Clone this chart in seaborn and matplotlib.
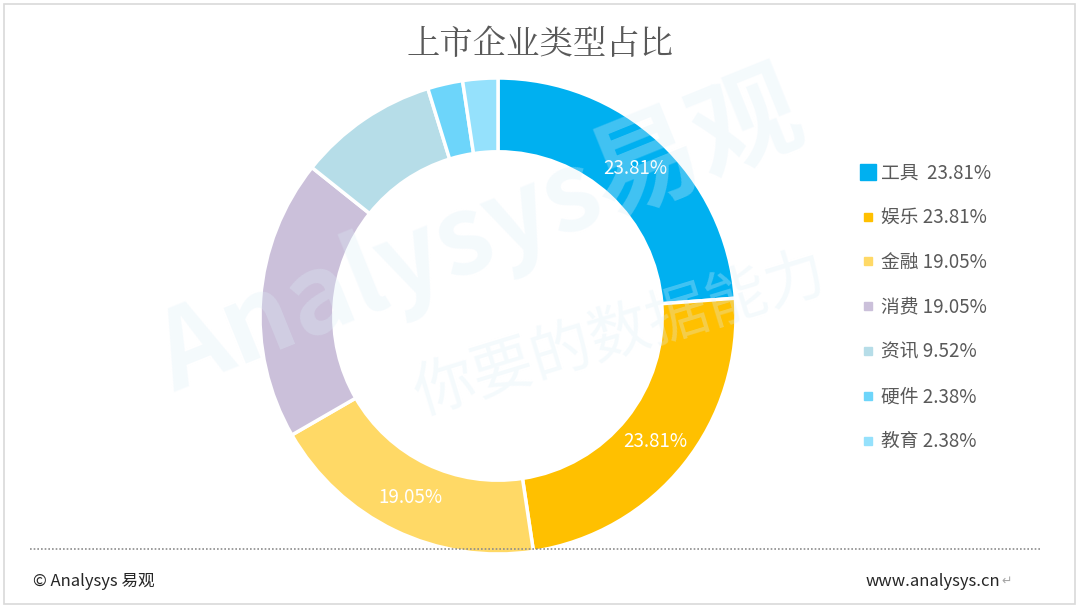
import matplotlib
matplotlib.use("Agg")
import matplotlib.pyplot as plt
import seaborn as sns
from matplotlib.lines import Line2D
from matplotlib.patches import Rectangle

categories = ["工具", "娱乐", "金融", "消费", "资讯", "硬件", "教育"]
shares = [23.81, 23.81, 19.05, 19.05, 9.52, 2.38, 2.38]
colors = ["#00B0F0", "#FFC000", "#FFD966", "#CBC0DA", "#B6DDE8", "#6DD5FA", "#95E1FC"]
shown_labels = 3  # only the first three slices carry a value label

sns.set_theme(style="white")
plt.rcParams["font.family"] = ["Noto Sans CJK SC", "DejaVu Sans"]

fig = plt.figure(figsize=(10.8, 6.08), dpi=100)

# outer frame + dotted separator
fig.patches.append(Rectangle((4 / 1080, 4 / 608), 1071 / 1080, 600 / 608,
                             transform=fig.transFigure, fill=False,
                             edgecolor="#D9D9D9", linewidth=1.2))
fig.lines.append(Line2D([30 / 1080, 1042 / 1080], [1 - 549 / 608] * 2,
                        transform=fig.transFigure, color="#8C8C8C",
                        linestyle=(0, (1, 1.2)), linewidth=1.2))

# donut centred at (498, 316) px, outer radius ~238 px
lim = 1.05
size = 2 * lim * 238
ax = fig.add_axes([(498 - size / 2) / 1080, (292 - size / 2) / 608,
                   size / 1080, size / 608])
wedges, texts, autotexts = ax.pie(
    shares, colors=colors, startangle=90, counterclock=False,
    autopct="%.2f%%", pctdistance=0.845,
    wedgeprops=dict(width=0.31, edgecolor="white", linewidth=2.5),
    textprops=dict(color="white", fontsize=13.5))
for i, t in enumerate(autotexts):
    t.set_visible(i < shown_labels)
ax.set_xlim(-lim, lim)
ax.set_ylim(-lim, lim)
ax.set_aspect("equal")
ax.axis("off")

# legend
handles = []
for i, (c, col) in enumerate(zip(categories, colors)):
    handles.append(Line2D([], [], marker="s", linestyle="none",
                          markerfacecolor=col, markeredgecolor=col,
                          markersize=11 if i == 0 else 6))
labels = [f"{c} {s:.2f}%" for c, s in zip(categories, shares)]
labels[0] = labels[0].replace(" ", "  ")
fig.legend(handles, labels, loc="upper left", bbox_to_anchor=(851 / 1080, 1 - 153 / 608),
           frameon=False, fontsize=13.5, labelcolor="#595959",
           labelspacing=1.27, handlelength=0.8, handletextpad=0.3, borderpad=0)

# title
fig.text(540 / 1080, 1 - 45 / 608, "上市企业类型占比", ha="center", va="center",
         fontsize=24, color="#595959",
         family=["Noto Serif CJK SC", "Noto Sans CJK SC", "DejaVu Sans"])

# faint watermark
fig.text(480 / 1080, 1 - 235 / 608, "Analysys易观", ha="center", va="center",
         fontsize=78, fontweight="bold", color="#DDEFF8", alpha=0.3, rotation=22)
fig.text(620 / 1080, 1 - 335 / 608, "你要的数据能力", ha="center", va="center",
         fontsize=44, color="#DDEFF8", alpha=0.3, rotation=17)

# footer
fig.text(33 / 1080, 1 - 581 / 608, "© Analysys 易观", ha="left", va="center",
         fontsize=12, color="#262626")
fig.text(1000 / 1080, 1 - 581 / 608, "www.analysys.cn", ha="right", va="center",
         fontsize=12, color="#262626")
fig.text(1001 / 1080, 1 - 581 / 608, "↵", ha="left", va="center",
         fontsize=9, color="#A6A6A6", family=["DejaVu Sans"])

fig.savefig("out.png", dpi=100)
